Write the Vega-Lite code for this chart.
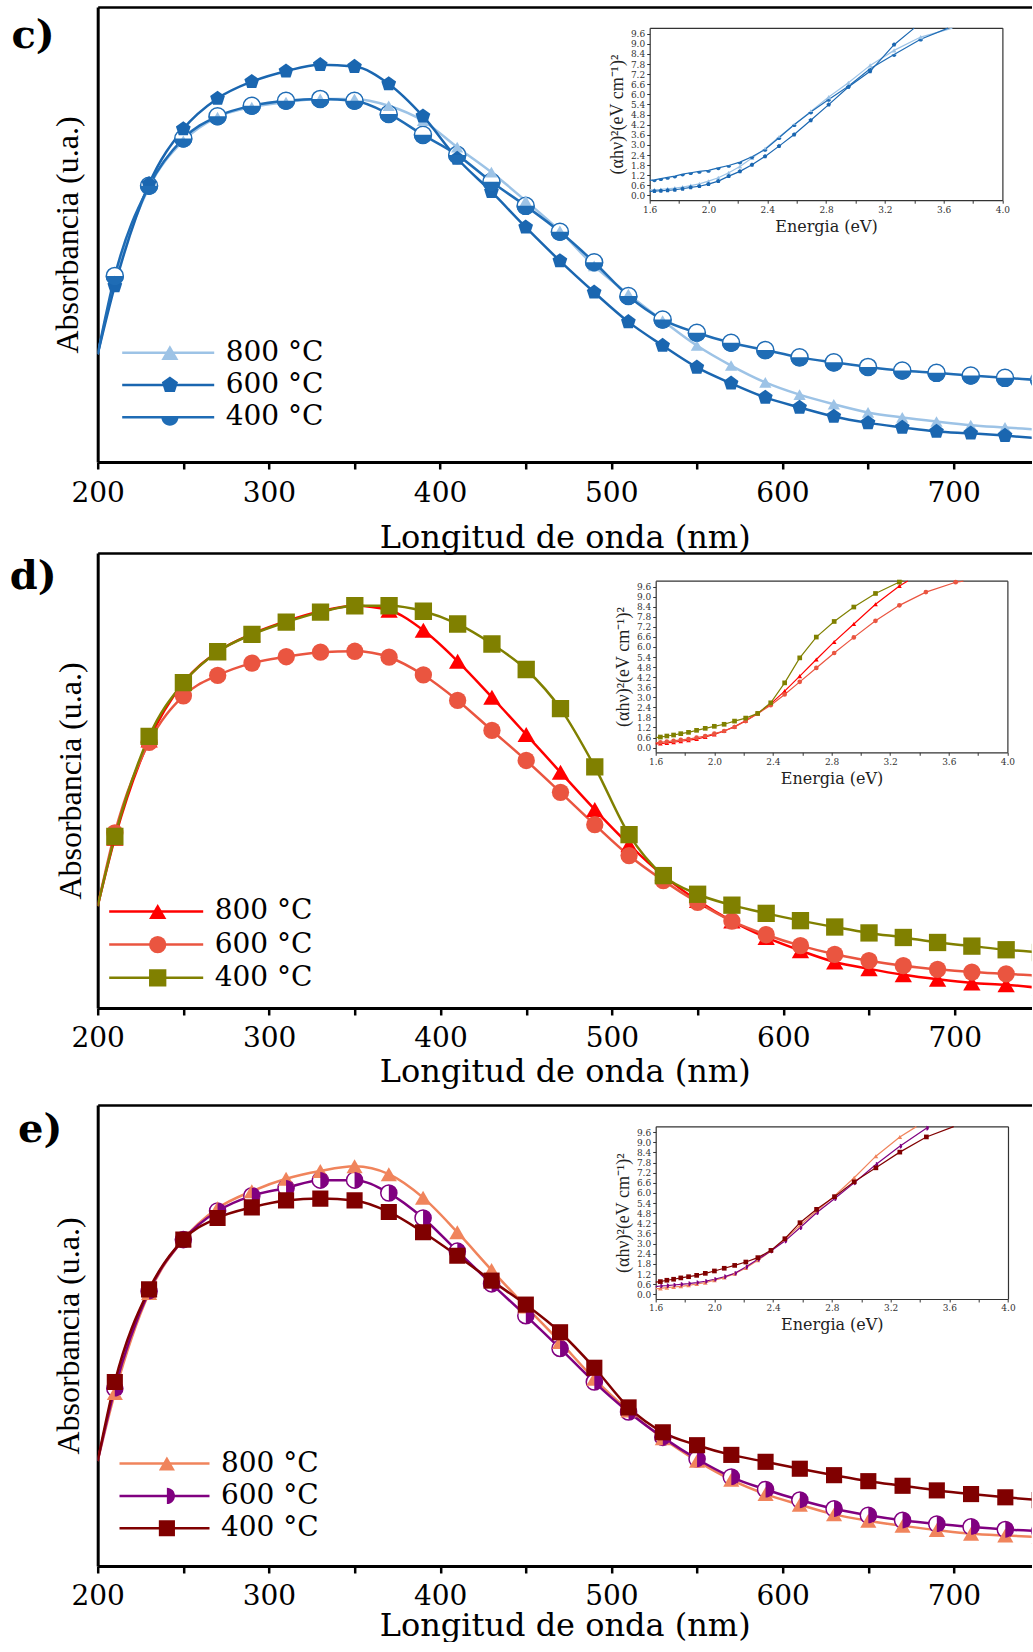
{
"$schema":"https://vega.github.io/schema/vega-lite/v6.json",
"background":"white",
"padding":{"left":9.7,"top":7,"right":0,"bottom":0},
"config":{"view":{"stroke":null},"axis":{"grid":false},"font":"DejaVu Serif"},
"columns":1,
"spacing":{"row":-3,"column":0},
"resolve":{"scale":{"stroke":"independent","fill":"independent","shape":"independent","size":"independent"}},
"concat":[
{
"width":934,"height":455,
"title":{"text":"c)","anchor":"start","frame":"group","orient":"top","offset":-40,"dx":-86.3,"dy":40.75,"baseline":"alphabetic","font":"DejaVu Serif","fontSize":40,"fontWeight":"bold","color":"black"},
"resolve":{"scale":{"x":"independent","y":"independent"}},
"layer":[
{"data":{"name":"cMain"},"layer":[
{"mark":{"type":"line","interpolate":"monotone","strokeWidth":2.5,"clip":true},
"encoding":{
"x":{"field":"nm","type":"quantitative","scale":{"domain":[200,745.6],"nice":false,"zero":false},"axis":{"orient":"bottom","values":[200,250,300,350,400,450,500,550,600,650,700],"labelExpr":"datum.value % 100 === 0 ? datum.label : ''","tickSize":7,"tickWidth":2.5,"tickColor":"black","domainWidth":3,"domainColor":"black","labelFont":"DejaVu Serif","labelFontSize":28,"labelColor":"black","labelPadding":10,"labelFlush":false,"labelOverlap":false,"title":"Longitud de onda (nm)","titleFont":"DejaVu Serif","titleFontSize":32,"titleFontWeight":"normal","titleColor":"black","titlePadding":15}},
"y":{"field":"abs","type":"quantitative","scale":{"domain":[0,100],"nice":false},"axis":{"orient":"left","ticks":false,"labels":false,"domainWidth":3,"domainColor":"black","title":"Absorbancia (u.a.)","titleFont":"Liberation Serif","titleFontSize":32,"titleFontWeight":"normal","titleColor":"black","titlePadding":13}},
"stroke":{"field":"temp","type":"nominal","scale":{"domain":["800 °C","600 °C","400 °C"],"range":["#9dc3e6","#1a66b0","#1f6cb5"]},"legend":{"orient":"none","legendX":23,"legendY":332.7,"title":null,"symbolType":"stroke","symbolSize":8464,"symbolStrokeWidth":2.5,"clipHeight":26,"rowPadding":4.3,"labelFont":"DejaVu Serif","labelFontSize":28,"labelColor":"black","labelOffset":10,"padding":0}}
}},
{"transform":[{"filter":"datum.nm > 205 && datum.temp === '400 °C'"}],
"mark":{"type":"point","shape":"circle","filled":true,"fill":"white","stroke":"#1f6cb5","strokeWidth":1.5,"size":290,"opacity":1,"clip":true},
"encoding":{"x":{"field":"nm","type":"quantitative","axis":null},"y":{"field":"abs","type":"quantitative"}}},
{"transform":[{"filter":"datum.nm > 205"}],
"mark":{"type":"point","filled":true,"opacity":1,"clip":true,"strokeWidth":0},
"encoding":{
"x":{"field":"nm","type":"quantitative","axis":{"orient":"top","ticks":false,"labels":false,"title":null,"domainWidth":2.5,"domainColor":"black"}},
"y":{"field":"abs","type":"quantitative"},
"fill":{"field":"temp","type":"nominal","sort":"descending","scale":{"range":["#9dc3e6","#1a66b0","#1f6cb5"]},"legend":{"orient":"none","legendX":58.2,"legendY":332.7,"title":null,"symbolSize":290,"symbolStrokeWidth":0,"clipHeight":26,"rowPadding":4.3,"labelExpr":"''","labelFont":"DejaVu Serif","labelFontSize":28,"labelOffset":10,"padding":0}},
"shape":{"field":"temp","type":"nominal","sort":"descending","scale":{"range":["triangle-up","M0,-1L0.951,-0.309L0.588,0.809L-0.588,0.809L-0.951,-0.309Z","M-1,0A1,1,0,0,0,1,0Z"]},"legend":{"orient":"none","legendX":58.2,"legendY":332.7,"title":null,"symbolSize":290,"symbolStrokeWidth":0,"clipHeight":26,"rowPadding":4.3,"labelExpr":"''","labelFont":"DejaVu Serif","labelFontSize":28,"labelOffset":10,"padding":0}},
"size":{"field":"temp","type":"nominal","sort":"descending","scale":{"range":[150,330,290]},"legend":null}
}}
]},
{"data":{"name":"cInset"},"layer":[
{"mark":{"type":"line","strokeWidth":1.2},
"encoding":{
"x":{"field":"eV","type":"quantitative","scale":{"domain":[1.6,4.0],"range":[552,904.7],"nice":false,"zero":false},"axis":{"orient":"bottom","offset":-261.8,"values":[1.6,1.8,2.0,2.2,2.4,2.6,2.8,3.0,3.2,3.4,3.6,3.8,4.0],"labelExpr":"round(datum.value*10) % 4 === 0 ? format(datum.value, '.1f') : ''","tickSize":3,"tickWidth":1,"tickColor":"#333","domainWidth":1.2,"domainColor":"#333","labelFont":"DejaVu Serif","labelFontSize":9,"labelColor":"#333","labelPadding":2,"labelFlush":false,"labelOverlap":false,"title":"Energia (eV)","titleFont":"DejaVu Serif","titleFontSize":16,"titleFontWeight":"normal","titleColor":"#222","titlePadding":4}},
"y":{"field":"tauc","type":"quantitative","scale":{"domain":[-0.28,9.95],"range":[193.2,20.8],"nice":false,"zero":false},"axis":{"orient":"left","offset":-552,"values":[0,0.6,1.2,1.8,2.4,3,3.6,4.2,4.8,5.4,6,6.6,7.2,7.8,8.4,9,9.6],"format":".1f","tickSize":3,"tickWidth":1,"tickColor":"#333","domainWidth":1.2,"domainColor":"#333","labelFont":"DejaVu Serif","labelFontSize":9,"labelColor":"#333","labelPadding":2,"labelOverlap":false,"labelFlush":false,"title":"(αhν)²(eV cm⁻¹)²","titleFont":"Liberation Serif","titleFontSize":18,"titleFontWeight":"normal","titleColor":"#222","titlePadding":4}},
"stroke":{"field":"temp","type":"nominal","legend":null}
}},
{"transform":[{"filter":"datum.eV > 1.61 && datum.tauc < 9.88"}],
"mark":{"type":"point","filled":true,"size":22,"opacity":1,"strokeWidth":0},
"encoding":{
"x":{"field":"eV","type":"quantitative","axis":{"orient":"top","offset":-20.8,"ticks":false,"labels":false,"title":null,"domainWidth":1.2,"domainColor":"#333"}},
"y":{"field":"tauc","type":"quantitative","axis":{"orient":"right","offset":-29.3,"ticks":false,"labels":false,"title":null,"domainWidth":1.2,"domainColor":"#333"}},
"fill":{"field":"temp","type":"nominal","sort":"descending","legend":null},
"shape":{"field":"temp","type":"nominal","sort":"descending","legend":null}
}}
]}
]
},
{
"width":934,"height":455,
"title":{"text":"d)","anchor":"start","frame":"group","orient":"top","offset":-40,"dx":-88,"dy":36.25,"baseline":"alphabetic","font":"DejaVu Serif","fontSize":40,"fontWeight":"bold","color":"black"},
"resolve":{"scale":{"x":"independent","y":"independent"}},
"layer":[
{"data":{"name":"dMain"},"layer":[
{"mark":{"type":"line","interpolate":"monotone","strokeWidth":2.5,"clip":true},
"encoding":{
"x":{"field":"nm","type":"quantitative","scale":{"domain":[200,744.9],"nice":false,"zero":false},"axis":{"orient":"bottom","values":[200,250,300,350,400,450,500,550,600,650,700],"labelExpr":"datum.value % 100 === 0 ? datum.label : ''","tickSize":7,"tickWidth":2.5,"tickColor":"black","domainWidth":3,"domainColor":"black","labelFont":"DejaVu Serif","labelFontSize":28,"labelColor":"black","labelPadding":10,"labelFlush":false,"labelOverlap":false,"title":"Longitud de onda (nm)","titleFont":"DejaVu Serif","titleFontSize":32,"titleFontWeight":"normal","titleColor":"black","titlePadding":4}},
"y":{"field":"abs","type":"quantitative","scale":{"domain":[0,100],"nice":false},"axis":{"orient":"left","ticks":false,"labels":false,"domainWidth":3,"domainColor":"black","title":"Absorbancia (u.a.)","titleFont":"Liberation Serif","titleFontSize":32,"titleFontWeight":"normal","titleColor":"black","titlePadding":10}},
"stroke":{"field":"temp","type":"nominal","scale":{"domain":["800 °C","600 °C","400 °C"],"range":["#ff0000","#ea5540","#808000"]},"legend":{"orient":"none","legendX":10,"legendY":345.4,"title":null,"symbolType":"stroke","symbolSize":8836,"symbolStrokeWidth":2.5,"clipHeight":26,"rowPadding":5.2,"labelFont":"DejaVu Serif","labelFontSize":28,"labelColor":"black","labelOffset":10,"padding":0}}
}},
{"transform":[{"filter":"datum.nm > 205"}],
"mark":{"type":"point","filled":true,"opacity":1,"clip":true,"strokeWidth":0,"size":300},
"encoding":{
"x":{"field":"nm","type":"quantitative","axis":{"orient":"top","ticks":false,"labels":false,"title":null,"domainWidth":2.5,"domainColor":"black"}},
"y":{"field":"abs","type":"quantitative"},
"fill":{"field":"temp","type":"nominal","sort":"descending","scale":{"range":["#ff0000","#ea5540","#808000"]},"legend":{"orient":"none","legendX":46,"legendY":345.4,"title":null,"symbolSize":300,"symbolStrokeWidth":0,"clipHeight":26,"rowPadding":5.2,"labelExpr":"''","labelFont":"DejaVu Serif","labelFontSize":28,"labelOffset":10,"padding":0}},
"shape":{"field":"temp","type":"nominal","sort":"descending","scale":{"range":["triangle-up","circle","square"]},"legend":{"orient":"none","legendX":46,"legendY":345.4,"title":null,"symbolSize":300,"symbolStrokeWidth":0,"clipHeight":26,"rowPadding":5.2,"labelExpr":"''","labelFont":"DejaVu Serif","labelFontSize":28,"labelOffset":10,"padding":0}}
}}
]},
{"data":{"name":"dInset"},"layer":[
{"mark":{"type":"line","strokeWidth":1.2},
"encoding":{
"x":{"field":"eV","type":"quantitative","scale":{"domain":[1.6,4.0],"range":[558,909.7],"nice":false,"zero":false},"axis":{"orient":"bottom","offset":-255.7,"values":[1.6,1.8,2.0,2.2,2.4,2.6,2.8,3.0,3.2,3.4,3.6,3.8,4.0],"labelExpr":"round(datum.value*10) % 4 === 0 ? format(datum.value, '.1f') : ''","tickSize":3,"tickWidth":1,"tickColor":"#333","domainWidth":1.2,"domainColor":"#333","labelFont":"DejaVu Serif","labelFontSize":9,"labelColor":"#333","labelPadding":2,"labelFlush":false,"labelOverlap":false,"title":"Energia (eV)","titleFont":"DejaVu Serif","titleFontSize":16,"titleFontWeight":"normal","titleColor":"#222","titlePadding":4}},
"y":{"field":"tauc","type":"quantitative","scale":{"domain":[-0.28,9.95],"range":[199.3,27.7],"nice":false,"zero":false},"axis":{"orient":"left","offset":-558,"values":[0,0.6,1.2,1.8,2.4,3,3.6,4.2,4.8,5.4,6,6.6,7.2,7.8,8.4,9,9.6],"format":".1f","tickSize":3,"tickWidth":1,"tickColor":"#333","domainWidth":1.2,"domainColor":"#333","labelFont":"DejaVu Serif","labelFontSize":9,"labelColor":"#333","labelPadding":2,"labelOverlap":false,"labelFlush":false,"title":"(αhν)²(eV cm⁻¹)²","titleFont":"Liberation Serif","titleFontSize":18,"titleFontWeight":"normal","titleColor":"#222","titlePadding":4}},
"stroke":{"field":"temp","type":"nominal","legend":null}
}},
{"transform":[{"filter":"datum.eV > 1.61 && datum.tauc < 9.88"}],
"mark":{"type":"point","filled":true,"size":22,"opacity":1,"strokeWidth":0},
"encoding":{
"x":{"field":"eV","type":"quantitative","axis":{"orient":"top","offset":-27.7,"ticks":false,"labels":false,"title":null,"domainWidth":1.2,"domainColor":"#333"}},
"y":{"field":"tauc","type":"quantitative","axis":{"orient":"right","offset":-24.3,"ticks":false,"labels":false,"title":null,"domainWidth":1.2,"domainColor":"#333"}},
"fill":{"field":"temp","type":"nominal","sort":"descending","legend":null},
"shape":{"field":"temp","type":"nominal","sort":"descending","legend":null}
}}
]}
]
},
{
"width":934,"height":461,
"title":{"text":"e)","anchor":"start","frame":"group","orient":"top","offset":-40,"dx":-79.7,"dy":57.4,"baseline":"alphabetic","font":"DejaVu Serif","fontSize":40,"fontWeight":"bold","color":"black"},
"resolve":{"scale":{"x":"independent","y":"independent"}},
"layer":[
{"data":{"name":"eMain"},"layer":[
{"mark":{"type":"line","interpolate":"monotone","strokeWidth":2.5,"clip":true},
"encoding":{
"x":{"field":"nm","type":"quantitative","scale":{"domain":[200,745.4],"nice":false,"zero":false},"axis":{"orient":"bottom","values":[200,250,300,350,400,450,500,550,600,650,700],"labelExpr":"datum.value % 100 === 0 ? datum.label : ''","tickSize":7,"tickWidth":2.5,"tickColor":"black","domainWidth":3,"domainColor":"black","labelFont":"DejaVu Serif","labelFontSize":28,"labelColor":"black","labelPadding":10,"labelFlush":false,"labelOverlap":false,"title":"Longitud de onda (nm)","titleFont":"DejaVu Serif","titleFontSize":32,"titleFontWeight":"normal","titleColor":"black","titlePadding":0}},
"y":{"field":"abs","type":"quantitative","scale":{"domain":[0,100],"nice":false},"axis":{"orient":"left","ticks":false,"labels":false,"domainWidth":3,"domainColor":"black","title":"Absorbancia (u.a.)","titleFont":"Liberation Serif","titleFontSize":32,"titleFontWeight":"normal","titleColor":"black","titlePadding":12}},
"stroke":{"field":"temp","type":"nominal","scale":{"domain":["800 °C","600 °C","400 °C"],"range":["#f0845c","#800080","#800000"]},"legend":{"orient":"none","legendX":20.3,"legendY":345.6,"title":null,"symbolType":"stroke","symbolSize":8100,"symbolStrokeWidth":2.5,"clipHeight":26,"rowPadding":4.3,"labelFont":"DejaVu Serif","labelFontSize":28,"labelColor":"black","labelOffset":10,"padding":0}}
}},
{"transform":[{"filter":"datum.nm > 205 && datum.temp === '600 °C'"}],
"mark":{"type":"point","shape":"circle","filled":true,"fill":"white","stroke":"#800080","strokeWidth":1.5,"size":260,"opacity":1,"clip":true},
"encoding":{"x":{"field":"nm","type":"quantitative","axis":null},"y":{"field":"abs","type":"quantitative"}}},
{"transform":[{"filter":"datum.nm > 205"}],
"mark":{"type":"point","filled":true,"opacity":1,"clip":true,"strokeWidth":0,"size":260},
"encoding":{
"x":{"field":"nm","type":"quantitative","axis":{"orient":"top","ticks":false,"labels":false,"title":"e","titleColor":"white","titleFontSize":18,"titlePadding":2,"domainWidth":2.5,"domainColor":"black"}},
"y":{"field":"abs","type":"quantitative"},
"fill":{"field":"temp","type":"nominal","sort":"descending","scale":{"range":["#f0845c","#800080","#800000"]},"legend":{"orient":"none","legendX":55.2,"legendY":345.6,"title":null,"symbolSize":260,"symbolStrokeWidth":0,"clipHeight":26,"rowPadding":4.3,"labelExpr":"''","labelFont":"DejaVu Serif","labelFontSize":28,"labelOffset":10,"padding":0}},
"shape":{"field":"temp","type":"nominal","sort":"descending","scale":{"range":["triangle-up","M0,-1A1,1,0,0,1,0,1Z","square"]},"legend":{"orient":"none","legendX":55.2,"legendY":345.6,"title":null,"symbolSize":260,"symbolStrokeWidth":0,"clipHeight":26,"rowPadding":4.3,"labelExpr":"''","labelFont":"DejaVu Serif","labelFontSize":28,"labelOffset":10,"padding":0}}
}}
]},
{"data":{"name":"eInset"},"layer":[
{"mark":{"type":"line","strokeWidth":1.2},
"encoding":{
"x":{"field":"eV","type":"quantitative","scale":{"domain":[1.6,4.0],"range":[558,910.3],"nice":false,"zero":false},"axis":{"orient":"bottom","offset":-267,"values":[1.6,1.8,2.0,2.2,2.4,2.6,2.8,3.0,3.2,3.4,3.6,3.8,4.0],"labelExpr":"round(datum.value*10) % 4 === 0 ? format(datum.value, '.1f') : ''","tickSize":3,"tickWidth":1,"tickColor":"#333","domainWidth":1.2,"domainColor":"#333","labelFont":"DejaVu Serif","labelFontSize":9,"labelColor":"#333","labelPadding":2,"labelFlush":false,"labelOverlap":false,"title":"Energia (eV)","titleFont":"DejaVu Serif","titleFontSize":16,"titleFontWeight":"normal","titleColor":"#222","titlePadding":4}},
"y":{"field":"tauc","type":"quantitative","scale":{"domain":[-0.28,9.95],"range":[194,21.3],"nice":false,"zero":false},"axis":{"orient":"left","offset":-558,"values":[0,0.6,1.2,1.8,2.4,3,3.6,4.2,4.8,5.4,6,6.6,7.2,7.8,8.4,9,9.6],"format":".1f","tickSize":3,"tickWidth":1,"tickColor":"#333","domainWidth":1.2,"domainColor":"#333","labelFont":"DejaVu Serif","labelFontSize":9,"labelColor":"#333","labelPadding":2,"labelOverlap":false,"labelFlush":false,"title":"(αhν)²(eV cm⁻¹)²","titleFont":"Liberation Serif","titleFontSize":18,"titleFontWeight":"normal","titleColor":"#222","titlePadding":4}},
"stroke":{"field":"temp","type":"nominal","legend":null}
}},
{"transform":[{"filter":"datum.eV > 1.61 && datum.tauc < 9.88"}],
"mark":{"type":"point","filled":true,"size":22,"opacity":1,"strokeWidth":0},
"encoding":{
"x":{"field":"eV","type":"quantitative","axis":{"orient":"top","offset":-21.3,"ticks":false,"labels":false,"title":null,"domainWidth":1.2,"domainColor":"#333"}},
"y":{"field":"tauc","type":"quantitative","axis":{"orient":"right","offset":-23.7,"ticks":false,"labels":false,"title":null,"domainWidth":1.2,"domainColor":"#333"}},
"fill":{"field":"temp","type":"nominal","sort":"descending","legend":null},
"shape":{"field":"temp","type":"nominal","sort":"descending","legend":null}
}}
]}
]
}
],
"datasets":{
"cMain":[
{"temp":"800 °C","nm":200,"abs":23.7},{"temp":"800 °C","nm":210,"abs":39.8},{"temp":"800 °C","nm":230,"abs":60.4},{"temp":"800 °C","nm":250,"abs":70.6},{"temp":"800 °C","nm":270,"abs":75.8},{"temp":"800 °C","nm":290,"abs":78.0},{"temp":"800 °C","nm":310,"abs":79.1},{"temp":"800 °C","nm":330,"abs":79.8},{"temp":"800 °C","nm":350,"abs":79.8},{"temp":"800 °C","nm":370,"abs":78.3},{"temp":"800 °C","nm":390,"abs":75.0},{"temp":"800 °C","nm":410,"abs":69.2},{"temp":"800 °C","nm":430,"abs":63.7},{"temp":"800 °C","nm":450,"abs":57.4},{"temp":"800 °C","nm":470,"abs":50.8},{"temp":"800 °C","nm":490,"abs":43.1},{"temp":"800 °C","nm":510,"abs":36.9},{"temp":"800 °C","nm":530,"abs":31.1},{"temp":"800 °C","nm":550,"abs":25.6},{"temp":"800 °C","nm":570,"abs":21.2},{"temp":"800 °C","nm":590,"abs":17.5},{"temp":"800 °C","nm":610,"abs":14.8},{"temp":"800 °C","nm":630,"abs":12.7},{"temp":"800 °C","nm":650,"abs":10.9},{"temp":"800 °C","nm":670,"abs":9.8},{"temp":"800 °C","nm":690,"abs":8.9},{"temp":"800 °C","nm":710,"abs":8.1},{"temp":"800 °C","nm":730,"abs":7.6},{"temp":"800 °C","nm":750,"abs":7.1},
{"temp":"600 °C","nm":200,"abs":23.7},{"temp":"600 °C","nm":210,"abs":38.7},{"temp":"600 °C","nm":230,"abs":61.1},{"temp":"600 °C","nm":250,"abs":73.2},{"temp":"600 °C","nm":270,"abs":79.9},{"temp":"600 °C","nm":290,"abs":83.6},{"temp":"600 °C","nm":310,"abs":85.9},{"temp":"600 °C","nm":330,"abs":87.3},{"temp":"600 °C","nm":350,"abs":86.9},{"temp":"600 °C","nm":370,"abs":83.1},{"temp":"600 °C","nm":390,"abs":76.0},{"temp":"600 °C","nm":410,"abs":66.7},{"temp":"600 °C","nm":430,"abs":59.4},{"temp":"600 °C","nm":450,"abs":51.6},{"temp":"600 °C","nm":470,"abs":44.2},{"temp":"600 °C","nm":490,"abs":37.3},{"temp":"600 °C","nm":510,"abs":30.8},{"temp":"600 °C","nm":530,"abs":25.6},{"temp":"600 °C","nm":550,"abs":20.8},{"temp":"600 °C","nm":570,"abs":17.3},{"temp":"600 °C","nm":590,"abs":14.2},{"temp":"600 °C","nm":610,"abs":12.0},{"temp":"600 °C","nm":630,"abs":10.0},{"temp":"600 °C","nm":650,"abs":8.6},{"temp":"600 °C","nm":670,"abs":7.6},{"temp":"600 °C","nm":690,"abs":6.7},{"temp":"600 °C","nm":710,"abs":6.3},{"temp":"600 °C","nm":730,"abs":5.8},{"temp":"600 °C","nm":750,"abs":5.2},
{"temp":"400 °C","nm":200,"abs":23.7},{"temp":"400 °C","nm":210,"abs":40.9},{"temp":"400 °C","nm":230,"abs":60.7},{"temp":"400 °C","nm":250,"abs":71.1},{"temp":"400 °C","nm":270,"abs":76.0},{"temp":"400 °C","nm":290,"abs":78.3},{"temp":"400 °C","nm":310,"abs":79.4},{"temp":"400 °C","nm":330,"abs":79.8},{"temp":"400 °C","nm":350,"abs":79.4},{"temp":"400 °C","nm":370,"abs":76.5},{"temp":"400 °C","nm":390,"abs":71.9},{"temp":"400 °C","nm":410,"abs":67.5},{"temp":"400 °C","nm":430,"abs":61.6},{"temp":"400 °C","nm":450,"abs":56.3},{"temp":"400 °C","nm":470,"abs":50.6},{"temp":"400 °C","nm":490,"abs":43.9},{"temp":"400 °C","nm":510,"abs":36.5},{"temp":"400 °C","nm":530,"abs":31.3},{"temp":"400 °C","nm":550,"abs":28.4},{"temp":"400 °C","nm":570,"abs":26.2},{"temp":"400 °C","nm":590,"abs":24.6},{"temp":"400 °C","nm":610,"abs":23.0},{"temp":"400 °C","nm":630,"abs":21.9},{"temp":"400 °C","nm":650,"abs":20.9},{"temp":"400 °C","nm":670,"abs":20.1},{"temp":"400 °C","nm":690,"abs":19.6},{"temp":"400 °C","nm":710,"abs":19.0},{"temp":"400 °C","nm":730,"abs":18.5},{"temp":"400 °C","nm":750,"abs":18.0}
],
"cInset":[
{"temp":"800 °C","eV":1.6,"tauc":0.33},{"temp":"800 °C","eV":1.632,"tauc":0.34},{"temp":"800 °C","eV":1.676,"tauc":0.36},{"temp":"800 °C","eV":1.722,"tauc":0.40},{"temp":"800 °C","eV":1.771,"tauc":0.44},{"temp":"800 °C","eV":1.824,"tauc":0.50},{"temp":"800 °C","eV":1.879,"tauc":0.59},{"temp":"800 °C","eV":1.938,"tauc":0.69},{"temp":"800 °C","eV":2.0,"tauc":0.85},{"temp":"800 °C","eV":2.067,"tauc":1.05},{"temp":"800 °C","eV":2.138,"tauc":1.35},{"temp":"800 °C","eV":2.214,"tauc":1.72},{"temp":"800 °C","eV":2.296,"tauc":2.22},{"temp":"800 °C","eV":2.385,"tauc":2.77},{"temp":"800 °C","eV":2.48,"tauc":3.47},{"temp":"800 °C","eV":2.583,"tauc":4.2},{"temp":"800 °C","eV":2.696,"tauc":4.99},{"temp":"800 °C","eV":2.818,"tauc":5.84},{"temp":"800 °C","eV":2.952,"tauc":6.69},{"temp":"800 °C","eV":3.1,"tauc":7.72},{"temp":"800 °C","eV":3.263,"tauc":8.61},{"temp":"800 °C","eV":3.444,"tauc":9.4},{"temp":"800 °C","eV":3.66,"tauc":9.93},
{"temp":"600 °C","eV":1.6,"tauc":0.24},{"temp":"600 °C","eV":1.632,"tauc":0.26},{"temp":"600 °C","eV":1.676,"tauc":0.28},{"temp":"600 °C","eV":1.722,"tauc":0.30},{"temp":"600 °C","eV":1.771,"tauc":0.34},{"temp":"600 °C","eV":1.824,"tauc":0.40},{"temp":"600 °C","eV":1.879,"tauc":0.48},{"temp":"600 °C","eV":1.938,"tauc":0.55},{"temp":"600 °C","eV":2.0,"tauc":0.67},{"temp":"600 °C","eV":2.067,"tauc":0.85},{"temp":"600 °C","eV":2.138,"tauc":1.15},{"temp":"600 °C","eV":2.214,"tauc":1.43},{"temp":"600 °C","eV":2.296,"tauc":1.82},{"temp":"600 °C","eV":2.385,"tauc":2.32},{"temp":"600 °C","eV":2.48,"tauc":2.93},{"temp":"600 °C","eV":2.583,"tauc":3.62},{"temp":"600 °C","eV":2.696,"tauc":4.46},{"temp":"600 °C","eV":2.818,"tauc":5.39},{"temp":"600 °C","eV":2.952,"tauc":6.44},{"temp":"600 °C","eV":3.1,"tauc":7.37},{"temp":"600 °C","eV":3.263,"tauc":8.95},{"temp":"600 °C","eV":3.4,"tauc":9.93},
{"temp":"400 °C","eV":1.6,"tauc":0.9},{"temp":"400 °C","eV":1.632,"tauc":0.93},{"temp":"400 °C","eV":1.676,"tauc":1.0},{"temp":"400 °C","eV":1.722,"tauc":1.07},{"temp":"400 °C","eV":1.771,"tauc":1.15},{"temp":"400 °C","eV":1.824,"tauc":1.27},{"temp":"400 °C","eV":1.879,"tauc":1.35},{"temp":"400 °C","eV":1.938,"tauc":1.43},{"temp":"400 °C","eV":2.0,"tauc":1.49},{"temp":"400 °C","eV":2.067,"tauc":1.64},{"temp":"400 °C","eV":2.138,"tauc":1.78},{"temp":"400 °C","eV":2.214,"tauc":1.98},{"temp":"400 °C","eV":2.296,"tauc":2.30},{"temp":"400 °C","eV":2.385,"tauc":2.73},{"temp":"400 °C","eV":2.48,"tauc":3.43},{"temp":"400 °C","eV":2.583,"tauc":4.2},{"temp":"400 °C","eV":2.696,"tauc":4.95},{"temp":"400 °C","eV":2.818,"tauc":5.7},{"temp":"400 °C","eV":2.952,"tauc":6.48},{"temp":"400 °C","eV":3.1,"tauc":7.52},{"temp":"400 °C","eV":3.263,"tauc":8.36},{"temp":"400 °C","eV":3.444,"tauc":9.27},{"temp":"400 °C","eV":3.63,"tauc":9.93}
],
"dMain":[
{"temp":"800 °C","nm":200,"abs":22.4},{"temp":"800 °C","nm":210,"abs":37.3},{"temp":"800 °C","nm":230,"abs":58.9},{"temp":"800 °C","nm":250,"abs":71.5},{"temp":"800 °C","nm":270,"abs":78.3},{"temp":"800 °C","nm":290,"abs":82.2},{"temp":"800 °C","nm":310,"abs":85.0},{"temp":"800 °C","nm":330,"abs":87.2},{"temp":"800 °C","nm":350,"abs":88.4},{"temp":"800 °C","nm":370,"abs":87.4},{"temp":"800 °C","nm":390,"abs":83.0},{"temp":"800 °C","nm":410,"abs":76.2},{"temp":"800 °C","nm":430,"abs":68.3},{"temp":"800 °C","nm":450,"abs":60.1},{"temp":"800 °C","nm":470,"abs":51.8},{"temp":"800 °C","nm":490,"abs":43.6},{"temp":"800 °C","nm":510,"abs":35.9},{"temp":"800 °C","nm":530,"abs":29.1},{"temp":"800 °C","nm":550,"abs":23.6},{"temp":"800 °C","nm":570,"abs":19.1},{"temp":"800 °C","nm":590,"abs":15.5},{"temp":"800 °C","nm":610,"abs":12.6},{"temp":"800 °C","nm":630,"abs":10.1},{"temp":"800 °C","nm":650,"abs":8.6},{"temp":"800 °C","nm":670,"abs":7.3},{"temp":"800 °C","nm":690,"abs":6.3},{"temp":"800 °C","nm":710,"abs":5.5},{"temp":"800 °C","nm":730,"abs":5.1},{"temp":"800 °C","nm":750,"abs":4.4},
{"temp":"600 °C","nm":200,"abs":22.4},{"temp":"600 °C","nm":210,"abs":38.5},{"temp":"600 °C","nm":230,"abs":58.4},{"temp":"600 °C","nm":250,"abs":68.6},{"temp":"600 °C","nm":270,"abs":73.1},{"temp":"600 °C","nm":290,"abs":75.8},{"temp":"600 °C","nm":310,"abs":77.2},{"temp":"600 °C","nm":330,"abs":78.2},{"temp":"600 °C","nm":350,"abs":78.4},{"temp":"600 °C","nm":370,"abs":77.1},{"temp":"600 °C","nm":390,"abs":73.2},{"temp":"600 °C","nm":410,"abs":67.6},{"temp":"600 °C","nm":430,"abs":61.0},{"temp":"600 °C","nm":450,"abs":54.4},{"temp":"600 °C","nm":470,"abs":47.4},{"temp":"600 °C","nm":490,"abs":40.3},{"temp":"600 °C","nm":510,"abs":33.5},{"temp":"600 °C","nm":530,"abs":28.0},{"temp":"600 °C","nm":550,"abs":23.2},{"temp":"600 °C","nm":570,"abs":19.1},{"temp":"600 °C","nm":590,"abs":16.1},{"temp":"600 °C","nm":610,"abs":13.7},{"temp":"600 °C","nm":630,"abs":11.8},{"temp":"600 °C","nm":650,"abs":10.4},{"temp":"600 °C","nm":670,"abs":9.3},{"temp":"600 °C","nm":690,"abs":8.5},{"temp":"600 °C","nm":710,"abs":7.9},{"temp":"600 °C","nm":730,"abs":7.5},{"temp":"600 °C","nm":750,"abs":7.1},
{"temp":"400 °C","nm":200,"abs":22.4},{"temp":"400 °C","nm":210,"abs":37.7},{"temp":"400 °C","nm":230,"abs":59.7},{"temp":"400 °C","nm":250,"abs":71.5},{"temp":"400 °C","nm":270,"abs":78.3},{"temp":"400 °C","nm":290,"abs":82.1},{"temp":"400 °C","nm":310,"abs":84.8},{"temp":"400 °C","nm":330,"abs":87.0},{"temp":"400 °C","nm":350,"abs":88.4},{"temp":"400 °C","nm":370,"abs":88.4},{"temp":"400 °C","nm":390,"abs":87.2},{"temp":"400 °C","nm":410,"abs":84.4},{"temp":"400 °C","nm":430,"abs":80.0},{"temp":"400 °C","nm":450,"abs":74.4},{"temp":"400 °C","nm":470,"abs":65.8},{"temp":"400 °C","nm":490,"abs":53.0},{"temp":"400 °C","nm":510,"abs":38.1},{"temp":"400 °C","nm":530,"abs":29.1},{"temp":"400 °C","nm":550,"abs":25.0},{"temp":"400 °C","nm":570,"abs":22.6},{"temp":"400 °C","nm":590,"abs":20.8},{"temp":"400 °C","nm":610,"abs":19.2},{"temp":"400 °C","nm":630,"abs":17.8},{"temp":"400 °C","nm":650,"abs":16.5},{"temp":"400 °C","nm":670,"abs":15.5},{"temp":"400 °C","nm":690,"abs":14.4},{"temp":"400 °C","nm":710,"abs":13.6},{"temp":"400 °C","nm":730,"abs":12.8},{"temp":"400 °C","nm":750,"abs":12.2}
],
"dInset":[
{"temp":"800 °C","eV":1.6,"tauc":0.22},{"temp":"800 °C","eV":1.632,"tauc":0.24},{"temp":"800 °C","eV":1.676,"tauc":0.28},{"temp":"800 °C","eV":1.722,"tauc":0.32},{"temp":"800 °C","eV":1.771,"tauc":0.38},{"temp":"800 °C","eV":1.824,"tauc":0.44},{"temp":"800 °C","eV":1.879,"tauc":0.51},{"temp":"800 °C","eV":1.938,"tauc":0.63},{"temp":"800 °C","eV":2.0,"tauc":0.79},{"temp":"800 °C","eV":2.067,"tauc":0.99},{"temp":"800 °C","eV":2.138,"tauc":1.25},{"temp":"800 °C","eV":2.214,"tauc":1.60},{"temp":"800 °C","eV":2.296,"tauc":2.04},{"temp":"800 °C","eV":2.385,"tauc":2.61},{"temp":"800 °C","eV":2.48,"tauc":3.37},{"temp":"800 °C","eV":2.583,"tauc":4.26},{"temp":"800 °C","eV":2.696,"tauc":5.25},{"temp":"800 °C","eV":2.818,"tauc":6.30},{"temp":"800 °C","eV":2.952,"tauc":7.37},{"temp":"800 °C","eV":3.1,"tauc":8.55},{"temp":"800 °C","eV":3.263,"tauc":9.64},{"temp":"800 °C","eV":3.32,"tauc":9.93},
{"temp":"600 °C","eV":1.6,"tauc":0.3},{"temp":"600 °C","eV":1.632,"tauc":0.32},{"temp":"600 °C","eV":1.676,"tauc":0.36},{"temp":"600 °C","eV":1.722,"tauc":0.40},{"temp":"600 °C","eV":1.771,"tauc":0.46},{"temp":"600 °C","eV":1.824,"tauc":0.51},{"temp":"600 °C","eV":1.879,"tauc":0.59},{"temp":"600 °C","eV":1.938,"tauc":0.69},{"temp":"600 °C","eV":2.0,"tauc":0.83},{"temp":"600 °C","eV":2.067,"tauc":0.99},{"temp":"600 °C","eV":2.138,"tauc":1.23},{"temp":"600 °C","eV":2.214,"tauc":1.58},{"temp":"600 °C","eV":2.296,"tauc":2.02},{"temp":"600 °C","eV":2.385,"tauc":2.53},{"temp":"600 °C","eV":2.48,"tauc":3.17},{"temp":"600 °C","eV":2.583,"tauc":3.92},{"temp":"600 °C","eV":2.696,"tauc":4.75},{"temp":"600 °C","eV":2.818,"tauc":5.64},{"temp":"600 °C","eV":2.952,"tauc":6.57},{"temp":"600 °C","eV":3.1,"tauc":7.56},{"temp":"600 °C","eV":3.263,"tauc":8.48},{"temp":"600 °C","eV":3.444,"tauc":9.27},{"temp":"600 °C","eV":3.647,"tauc":9.86},{"temp":"600 °C","eV":3.7,"tauc":9.93},
{"temp":"400 °C","eV":1.6,"tauc":0.6},{"temp":"400 °C","eV":1.632,"tauc":0.63},{"temp":"400 °C","eV":1.676,"tauc":0.69},{"temp":"400 °C","eV":1.722,"tauc":0.75},{"temp":"400 °C","eV":1.771,"tauc":0.83},{"temp":"400 °C","eV":1.824,"tauc":0.91},{"temp":"400 °C","eV":1.879,"tauc":1.03},{"temp":"400 °C","eV":1.938,"tauc":1.15},{"temp":"400 °C","eV":2.0,"tauc":1.27},{"temp":"400 °C","eV":2.067,"tauc":1.39},{"temp":"400 °C","eV":2.138,"tauc":1.58},{"temp":"400 °C","eV":2.214,"tauc":1.76},{"temp":"400 °C","eV":2.296,"tauc":2.04},{"temp":"400 °C","eV":2.385,"tauc":2.67},{"temp":"400 °C","eV":2.48,"tauc":3.86},{"temp":"400 °C","eV":2.583,"tauc":5.35},{"temp":"400 °C","eV":2.696,"tauc":6.59},{"temp":"400 °C","eV":2.818,"tauc":7.52},{"temp":"400 °C","eV":2.952,"tauc":8.38},{"temp":"400 °C","eV":3.1,"tauc":9.19},{"temp":"400 °C","eV":3.263,"tauc":9.87},{"temp":"400 °C","eV":3.29,"tauc":9.93}
],
"eMain":[
{"temp":"800 °C","nm":200,"abs":22.8},{"temp":"800 °C","nm":210,"abs":37.5},{"temp":"800 °C","nm":230,"abs":59.2},{"temp":"800 °C","nm":250,"abs":70.8},{"temp":"800 °C","nm":270,"abs":77.6},{"temp":"800 °C","nm":290,"abs":81.3},{"temp":"800 °C","nm":310,"abs":84.0},{"temp":"800 °C","nm":330,"abs":85.7},{"temp":"800 °C","nm":350,"abs":86.7},{"temp":"800 °C","nm":370,"abs":85.0},{"temp":"800 °C","nm":390,"abs":79.9},{"temp":"800 °C","nm":410,"abs":72.4},{"temp":"800 °C","nm":430,"abs":64.2},{"temp":"800 °C","nm":450,"abs":56.3},{"temp":"800 °C","nm":470,"abs":48.6},{"temp":"800 °C","nm":490,"abs":40.6},{"temp":"800 °C","nm":510,"abs":33.7},{"temp":"800 °C","nm":530,"abs":27.7},{"temp":"800 °C","nm":550,"abs":22.8},{"temp":"800 °C","nm":570,"abs":18.7},{"temp":"800 °C","nm":590,"abs":15.6},{"temp":"800 °C","nm":610,"abs":13.3},{"temp":"800 °C","nm":630,"abs":11.2},{"temp":"800 °C","nm":650,"abs":9.8},{"temp":"800 °C","nm":670,"abs":8.7},{"temp":"800 °C","nm":690,"abs":7.8},{"temp":"800 °C","nm":710,"abs":7.0},{"temp":"800 °C","nm":730,"abs":6.6},{"temp":"800 °C","nm":750,"abs":6.3},
{"temp":"600 °C","nm":200,"abs":22.8},{"temp":"600 °C","nm":210,"abs":38.5},{"temp":"600 °C","nm":230,"abs":59.6},{"temp":"600 °C","nm":250,"abs":70.8},{"temp":"600 °C","nm":270,"abs":77.0},{"temp":"600 °C","nm":290,"abs":80.3},{"temp":"600 °C","nm":310,"abs":82.0},{"temp":"600 °C","nm":330,"abs":83.7},{"temp":"600 °C","nm":350,"abs":83.7},{"temp":"600 °C","nm":370,"abs":80.9},{"temp":"600 °C","nm":390,"abs":75.5},{"temp":"600 °C","nm":410,"abs":68.3},{"temp":"600 °C","nm":430,"abs":61.2},{"temp":"600 °C","nm":450,"abs":54.3},{"temp":"600 °C","nm":470,"abs":47.2},{"temp":"600 °C","nm":490,"abs":39.9},{"temp":"600 °C","nm":510,"abs":33.4},{"temp":"600 °C","nm":530,"abs":27.9},{"temp":"600 °C","nm":550,"abs":23.2},{"temp":"600 °C","nm":570,"abs":19.3},{"temp":"600 °C","nm":590,"abs":16.6},{"temp":"600 °C","nm":610,"abs":14.3},{"temp":"600 °C","nm":630,"abs":12.4},{"temp":"600 °C","nm":650,"abs":11.0},{"temp":"600 °C","nm":670,"abs":9.9},{"temp":"600 °C","nm":690,"abs":9.1},{"temp":"600 °C","nm":710,"abs":8.5},{"temp":"600 °C","nm":730,"abs":7.9},{"temp":"600 °C","nm":750,"abs":7.6},
{"temp":"400 °C","nm":200,"abs":22.8},{"temp":"400 °C","nm":210,"abs":39.9},{"temp":"400 °C","nm":230,"abs":60.0},{"temp":"400 °C","nm":250,"abs":70.8},{"temp":"400 °C","nm":270,"abs":75.5},{"temp":"400 °C","nm":290,"abs":77.8},{"temp":"400 °C","nm":310,"abs":79.3},{"temp":"400 °C","nm":330,"abs":79.7},{"temp":"400 °C","nm":350,"abs":79.3},{"temp":"400 °C","nm":370,"abs":76.8},{"temp":"400 °C","nm":390,"abs":72.4},{"temp":"400 °C","nm":410,"abs":67.3},{"temp":"400 °C","nm":430,"abs":61.9},{"temp":"400 °C","nm":450,"abs":56.7},{"temp":"400 °C","nm":470,"abs":50.7},{"temp":"400 °C","nm":490,"abs":43.0},{"temp":"400 °C","nm":510,"abs":34.4},{"temp":"400 °C","nm":530,"abs":29.0},{"temp":"400 °C","nm":550,"abs":26.2},{"temp":"400 °C","nm":570,"abs":24.1},{"temp":"400 °C","nm":590,"abs":22.6},{"temp":"400 °C","nm":610,"abs":21.1},{"temp":"400 °C","nm":630,"abs":19.7},{"temp":"400 °C","nm":650,"abs":18.4},{"temp":"400 °C","nm":670,"abs":17.4},{"temp":"400 °C","nm":690,"abs":16.4},{"temp":"400 °C","nm":710,"abs":15.6},{"temp":"400 °C","nm":730,"abs":14.9},{"temp":"400 °C","nm":750,"abs":14.3}
],
"eInset":[
{"temp":"800 °C","eV":1.6,"tauc":0.33},{"temp":"800 °C","eV":1.632,"tauc":0.35},{"temp":"800 °C","eV":1.676,"tauc":0.39},{"temp":"800 °C","eV":1.722,"tauc":0.43},{"temp":"800 °C","eV":1.771,"tauc":0.47},{"temp":"800 °C","eV":1.824,"tauc":0.53},{"temp":"800 °C","eV":1.879,"tauc":0.61},{"temp":"800 °C","eV":1.938,"tauc":0.69},{"temp":"800 °C","eV":2.0,"tauc":0.83},{"temp":"800 °C","eV":2.067,"tauc":0.99},{"temp":"800 °C","eV":2.138,"tauc":1.22},{"temp":"800 °C","eV":2.214,"tauc":1.56},{"temp":"800 °C","eV":2.296,"tauc":2.01},{"temp":"800 °C","eV":2.385,"tauc":2.56},{"temp":"800 °C","eV":2.48,"tauc":3.25},{"temp":"800 °C","eV":2.583,"tauc":4.08},{"temp":"800 °C","eV":2.696,"tauc":4.93},{"temp":"800 °C","eV":2.818,"tauc":5.82},{"temp":"800 °C","eV":2.952,"tauc":6.90},{"temp":"800 °C","eV":3.1,"tauc":8.18},{"temp":"800 °C","eV":3.263,"tauc":9.32},{"temp":"800 °C","eV":3.376,"tauc":9.93},
{"temp":"600 °C","eV":1.6,"tauc":0.45},{"temp":"600 °C","eV":1.632,"tauc":0.49},{"temp":"600 °C","eV":1.676,"tauc":0.51},{"temp":"600 °C","eV":1.722,"tauc":0.55},{"temp":"600 °C","eV":1.771,"tauc":0.59},{"temp":"600 °C","eV":1.824,"tauc":0.63},{"temp":"600 °C","eV":1.879,"tauc":0.69},{"temp":"600 °C","eV":1.938,"tauc":0.77},{"temp":"600 °C","eV":2.0,"tauc":0.89},{"temp":"600 °C","eV":2.067,"tauc":1.04},{"temp":"600 °C","eV":2.138,"tauc":1.24},{"temp":"600 °C","eV":2.214,"tauc":1.62},{"temp":"600 °C","eV":2.296,"tauc":2.07},{"temp":"600 °C","eV":2.385,"tauc":2.56},{"temp":"600 °C","eV":2.48,"tauc":3.15},{"temp":"600 °C","eV":2.583,"tauc":3.94},{"temp":"600 °C","eV":2.696,"tauc":4.83},{"temp":"600 °C","eV":2.818,"tauc":5.66},{"temp":"600 °C","eV":2.952,"tauc":6.60},{"temp":"600 °C","eV":3.1,"tauc":7.69},{"temp":"600 °C","eV":3.263,"tauc":8.77},{"temp":"600 °C","eV":3.444,"tauc":9.84},{"temp":"600 °C","eV":3.46,"tauc":9.93},
{"temp":"400 °C","eV":1.6,"tauc":0.72},{"temp":"400 °C","eV":1.632,"tauc":0.75},{"temp":"400 °C","eV":1.676,"tauc":0.83},{"temp":"400 °C","eV":1.722,"tauc":0.89},{"temp":"400 °C","eV":1.771,"tauc":0.97},{"temp":"400 °C","eV":1.824,"tauc":1.04},{"temp":"400 °C","eV":1.879,"tauc":1.12},{"temp":"400 °C","eV":1.938,"tauc":1.24},{"temp":"400 °C","eV":2.0,"tauc":1.38},{"temp":"400 °C","eV":2.067,"tauc":1.54},{"temp":"400 °C","eV":2.138,"tauc":1.71},{"temp":"400 °C","eV":2.214,"tauc":1.91},{"temp":"400 °C","eV":2.296,"tauc":2.17},{"temp":"400 °C","eV":2.385,"tauc":2.60},{"temp":"400 °C","eV":2.48,"tauc":3.29},{"temp":"400 °C","eV":2.583,"tauc":4.24},{"temp":"400 °C","eV":2.696,"tauc":5.03},{"temp":"400 °C","eV":2.818,"tauc":5.78},{"temp":"400 °C","eV":2.952,"tauc":6.66},{"temp":"400 °C","eV":3.1,"tauc":7.49},{"temp":"400 °C","eV":3.263,"tauc":8.42},{"temp":"400 °C","eV":3.444,"tauc":9.32},{"temp":"400 °C","eV":3.63,"tauc":9.93}
]
}
}
